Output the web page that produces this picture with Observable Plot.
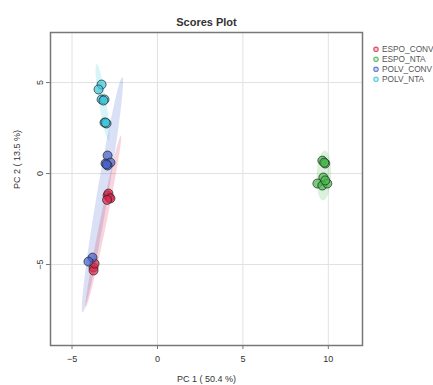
<!DOCTYPE html>
<html><head><meta charset="utf-8">
<script src="https://cdn.jsdelivr.net/npm/d3@7"></script>
<script src="https://cdn.jsdelivr.net/npm/@observablehq/plot@0.6"></script>
<style>body{margin:0;background:#fff;font-family:"Liberation Sans",Arial,sans-serif;overflow:hidden;}</style>
</head><body><div id="chart"></div>
<script>
const title = "Scores Plot";
const xLabel = "PC 1 ( 50.4 %)";
const yLabel = "PC 2 ( 13.5 %)";
const groups = ["ESPO_CONV", "ESPO_NTA", "POLV_CONV", "POLV_NTA"];
const colors = ["#dc2a4e", "#45b94b", "#4863cc", "#3fc6dc"];
const xTicks = [-5, 0, 5, 10];
const yTicks = [-5, 0, 5];

const espoConvX = [-2.92, -2.81, -2.87, -2.75, -2.95, -3.74, -3.74, -3.68];
const espoConvY = [-1.21, -1.32, -1.10, -1.37, -1.45, -5.16, -5.33, -4.95];
const espoNtaX = [9.65, 9.82, 9.71, 9.36, 9.65, 9.94, 9.82, 9.76];
const espoNtaY = [0.71, 0.55, -0.22, -0.55, -0.66, -0.55, -0.38, 0.60];
const polvConvX = [-2.92, -3.04, -2.75, -2.92, -2.98, -3.80, -4.04];
const polvConvY = [0.99, 0.55, 0.60, 0.44, 0.50, -4.62, -4.84];
const polvNtaX = [-3.27, -3.45, -3.27, -3.10, -3.16, -3.10, -2.98, -3.04];
const polvNtaY = [4.89, 4.62, 4.07, 4.07, 4.01, 2.80, 2.75, 2.80];

// confidence ellipses: center, major half-axis vector, horizontal half-width
const ellCx = [-3.17, 9.74, -3.22, -3.21];
const ellCy = [-2.63, -0.11, -1.17, 3.92];
const ellUx = [1.03, 0.05, 1.16, -0.35];
const ellUy = [4.72, 1.37, 6.46, 2.10];
const ellW = [0.2, 0.42, 0.33, 0.22];

const xs = [espoConvX, espoNtaX, polvConvX, polvNtaX];
const ys = [espoConvY, espoNtaY, polvConvY, polvNtaY];
const points = [];
groups.forEach((g, i) => xs[i].forEach((x, j) => points.push({group: g, x, y: ys[i][j]})));

const ellPts = [];
groups.forEach((g, i) => {
  for (let k = 0; k < 72; k++) {
    const t = k / 72 * 2 * Math.PI;
    ellPts.push({group: g,
      x: ellCx[i] + ellUx[i] * Math.cos(t) + ellW[i] * Math.sin(t),
      y: ellCy[i] + ellUy[i] * Math.cos(t)});
  }
});
const drawOrder = ["POLV_CONV", "ESPO_CONV", "POLV_NTA", "ESPO_NTA"];
const colorOf = g => colors[groups.indexOf(g)];

const W = 433, H = 385;
const chart = Plot.plot({
  width: W, height: H,
  marginLeft: 50, marginRight: 71, marginTop: 32, marginBottom: 40,
  style: {fontFamily: "Liberation Sans, Arial, sans-serif", fontSize: "9px", color: "#333", background: "#fff"},
  x: {domain: [-6.26, 12.0]},
  y: {domain: [-9.45, 7.75]},
  marks: [
    Plot.gridX(xTicks, {stroke: "#e2e2e2", strokeOpacity: 1, strokeWidth: 1}),
    Plot.gridY(yTicks, {stroke: "#e2e2e2", strokeOpacity: 1, strokeWidth: 1}),
    ...drawOrder.map(g => Plot.line(ellPts.filter(d => d.group === g), {
      x: "x", y: "y", curve: "linear-closed", stroke: "none",
      fill: colorOf(g), fillOpacity: 0.2
    })),
    Plot.dot(points, {x: "x", y: "y", r: 4.5, fill: d => colorOf(d.group), fillOpacity: 0.72,
      stroke: "#222", strokeOpacity: 0.7, strokeWidth: 1}),
    Plot.frame({stroke: "#777", strokeWidth: 1.5}),
    Plot.axisX({ticks: xTicks, tickSize: 4, tickPadding: 6, stroke: "#777", label: null, fontSize: 9}),
    Plot.axisY({ticks: yTicks, tickSize: 4, tickPadding: 4, tickRotate: -90, stroke: "#777", label: null, fontSize: 9, textAnchor: "middle"}),
    Plot.text([xLabel], {frameAnchor: "bottom", dy: 36, text: d => d, fontSize: 9}),
    Plot.text([yLabel], {frameAnchor: "left", dx: -33, rotate: -90, text: d => d, fontSize: 9}),
    Plot.text([title], {frameAnchor: "top", dy: -14, text: d => d, fontSize: 11, fontWeight: "bold"})
  ]
});
document.getElementById("chart").appendChild(chart);

const svg = d3.select(chart);
const leg = svg.append("g").attr("transform", "translate(376,49.3)")
  .attr("text-anchor", "start")
  .style("font-family", "Liberation Sans, Arial, sans-serif").style("font-size", "8.3px");
groups.forEach((g, i) => {
  const row = leg.append("g").attr("transform", `translate(0,${i * 10})`);
  row.append("circle").attr("r", 2.2).attr("fill", colors[i]).attr("fill-opacity", 0.25)
    .attr("stroke", colors[i]).attr("stroke-width", 1.2).attr("stroke-opacity", 0.8);
  row.append("text").attr("x", 6).attr("dy", "0.35em").attr("text-anchor", "start").attr("fill", "#555").text(g);
});
</script></body></html>
